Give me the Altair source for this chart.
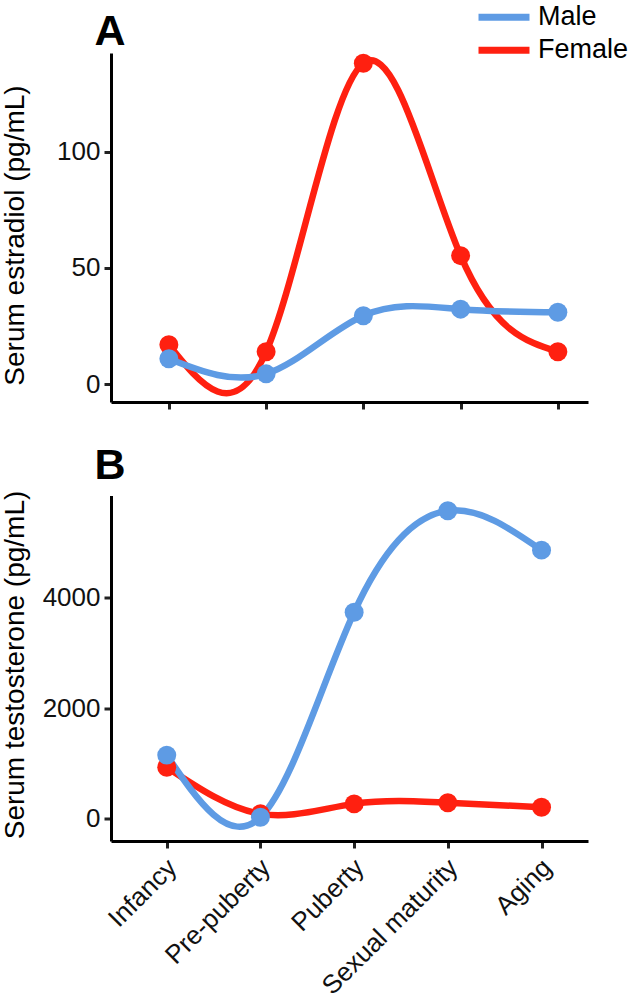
import altair as alt
import pandas as pd

# Life stages on the x axis, in order
stages = ["Infancy", "Pre-puberty", "Puberty", "Sexual maturity", "Aging"]
series = ["Male", "Female"]
series_colors = ["#5E9BE4", "#FF2010"]

# Serum estradiol (pg/mL)
estradiol_male = [11, 4.5, 29.5, 32.3, 31]
estradiol_female = [17, 14, 138, 55.3, 14]

# Serum testosterone (pg/mL)
testosterone_male = [1150, 30, 3730, 5560, 4850]
testosterone_female = [930, 90, 270, 290, 210]

estradiol_ticks = [0, 50, 100]
testosterone_ticks = [0, 2000, 4000]

FONT = "Liberation Sans"
stage_index = list(range(1, len(stages) + 1))
stage_label_expr = "[" + ",".join(f"'{s}'" for s in stages) + "][datum.value - 1]"


def long_table(male, female):
    rows = []
    for name, values in (("Female", female), ("Male", male)):
        for i, v in enumerate(values):
            rows.append({"stage": i + 1, "series": name, "value": v})
    return pd.DataFrame(rows)


def panel(df, y_title, title_y, ticks, y_domain, x_domain, height, letter,
          letter_y, show_x_labels, legend):
    x = alt.X(
        "stage:Q",
        scale=alt.Scale(domain=x_domain, nice=False, zero=False),
        axis=alt.Axis(
            values=stage_index,
            labelExpr=stage_label_expr,
            labels=show_x_labels,
            labelAngle=-45,
            labelFontSize=26,
            labelOverlap=False,
            labelLimit=400,
            labelOffset=-4,
            labelPadding=6,
            title=None,
        ),
    )
    y = alt.Y(
        "value:Q",
        scale=alt.Scale(domain=y_domain, nice=False, zero=False),
        axis=alt.Axis(values=ticks, format="d", title=y_title, titleX=-82,
                      titleY=title_y, titleBaseline="bottom"),
    )
    lines = alt.Chart(df).mark_line(
        interpolate="natural", strokeWidth=6.5, strokeCap="round"
    ).encode(
        x=x,
        y=y,
        color=alt.Color(
            "series:N",
            scale=alt.Scale(domain=series, range=series_colors),
            legend=legend,
        ),
    )
    points = alt.Chart(df).mark_circle(size=360, opacity=1).encode(
        x=x,
        y=y,
        fill=alt.Fill(
            "series:N",
            scale=alt.Scale(domain=series, range=series_colors),
            legend=None,
        ),
    )
    tag = alt.Chart(pd.DataFrame({"t": [letter]})).mark_text(
        font=FONT, fontSize=43, fontWeight="bold", color="black",
        align="center", baseline="alphabetic",
    ).encode(text="t:N", x=alt.value(-1), y=alt.value(letter_y))
    return alt.layer(lines, points, tag).properties(width=477, height=height)


legend = alt.Legend(
    title=None,
    orient="none",
    legendX=379,
    legendY=-49.7,
    symbolType="M-2.5,0L2.5,0",
    symbolSize=416,
    symbolStrokeWidth=7,
    labelFontSize=27,
    labelFont=FONT,
    labelColor="black",
    labelOffset=20,
    rowPadding=5,
    padding=0,
)

top = panel(
    long_table(estradiol_male, estradiol_female),
    "Serum estradiol (pg/mL)",
    182,
    estradiol_ticks,
    [-7.6, 142.4],
    [0.405, 5.31],
    349,
    "A",
    -8.4,
    False,
    legend,
)

bottom = panel(
    long_table(testosterone_male, testosterone_female),
    "Serum testosterone (pg/mL)",
    169,
    testosterone_ticks,
    [-400, 5836],
    [0.405, 5.496],
    345.5,
    "B",
    -17,
    True,
    None,
)

chart = (
    alt.vconcat(top, bottom, spacing=33.5)
    .properties(padding={"left": 0, "top": 3, "right": 0, "bottom": 0})
    .configure_view(stroke=None)
    .configure_axis(
        grid=False,
        domainColor="black",
        domainWidth=3,
        tickColor="#222",
        tickWidth=3,
        tickSize=7,
        labelFont=FONT,
        labelFontSize=26,
        labelColor="#111",
        labelPadding=4,
        titleFont=FONT,
        titleFontSize=28,
        titleFontWeight="normal",
        titleColor="black",
    )
)

chart.save("out.html", embed_options={"renderer": "svg", "actions": False})
